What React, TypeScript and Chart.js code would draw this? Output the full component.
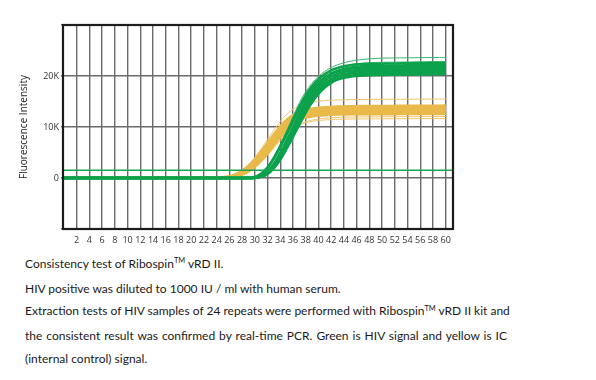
import React, { useEffect, useRef } from 'react';
import { Chart, registerables } from 'chart.js';

Chart.register(...registerables);

// PCR cycle numbers (x values)
const cycles = [
  0, 1, 2, 3, 4, 5, 6, 7, 8, 9,
  10, 11, 12, 13, 14, 15, 16, 17, 18, 19,
  20, 21, 22, 23, 24, 25, 26, 27, 28, 29,
  30, 31, 32, 33, 34, 35, 36, 37, 38, 39,
  40, 41, 42, 43, 44, 45, 46, 47, 48, 49,
  50, 51, 52, 53, 54, 55, 56, 57, 58, 59,
  60,
];

const xTickValues = [2, 4, 6, 8, 10, 12, 14, 16, 18, 20, 22, 24, 26, 28, 30, 32, 34, 36, 38, 40, 42, 44, 46, 48, 50, 52, 54, 56, 58, 60];
const yTickValues = [-10000, 0, 10000, 20000, 30000];
const yTickLabels = ['', '0', '10K', '20K', ''];
const thresholdValue = 1500;
const yAxisTitle = 'Fluorescence Intensity';

// HIV signal (green) – main band
const hiv1 = [
  0, 0, 0, 0, 0, 0, 0, 0, 0, 0,
  0, 0, 0, 0, 0, 0, 0, 0, 0, 0,
  0, 0, 0, 0, 0, 0, 0, 0, 0, 30,
  220, 850, 2080, 3940, 6270, 8780, 11420, 14000, 16240, 18030,
  19380, 20380, 21120, 21570, 21910, 22110, 22240, 22330, 22380, 22400,
  22410, 22450, 22460, 22490, 22500, 22530, 22540, 22560, 22590, 22600,
  22620,
];
const hiv2 = [
  0, 0, 0, 0, 0, 0, 0, 0, 0, 0,
  0, 0, 0, 0, 0, 0, 0, 0, 0, 0,
  0, 0, 0, 0, 0, 0, 0, 0, 0, 0,
  70, 350, 1320, 2790, 4950, 7370, 9900, 12540, 14960, 16940,
  18480, 19580, 20460, 21010, 21380, 21630, 21780, 21890, 21960, 22000,
  22010, 22040, 22060, 22070, 22100, 22110, 22140, 22150, 22170, 22190,
  22210,
];
const hiv3 = [
  0, 0, 0, 0, 0, 0, 0, 0, 0, 0,
  0, 0, 0, 0, 0, 0, 0, 0, 0, 0,
  0, 0, 0, 0, 0, 0, 0, 0, 0, 30,
  220, 830, 2020, 3820, 6080, 8510, 11070, 13560, 15730, 17470,
  18770, 19750, 20460, 20900, 21220, 21420, 21550, 21640, 21680, 21700,
  21710, 21740, 21750, 21780, 21790, 21810, 21830, 21850, 21860, 21890,
  21900,
];
const hiv4 = [
  0, 0, 0, 0, 0, 0, 0, 0, 0, 0,
  0, 0, 0, 0, 0, 0, 0, 0, 0, 0,
  0, 0, 0, 0, 0, 0, 0, 0, 0, 0,
  60, 340, 1280, 2720, 4820, 7170, 9630, 12200, 14550, 16480,
  17980, 19050, 19900, 20440, 20800, 21040, 21190, 21290, 21360, 21400,
  21420, 21430, 21460, 21470, 21490, 21510, 21520, 21550, 21560, 21580,
  21600,
];
const hiv5 = [
  0, 0, 0, 0, 0, 0, 0, 0, 0, 0,
  0, 0, 0, 0, 0, 0, 0, 0, 0, 0,
  0, 0, 0, 0, 0, 0, 0, 0, 0, 0,
  20, 210, 800, 1960, 3710, 5910, 8270, 10760, 13190, 15300,
  16990, 18250, 19200, 19900, 20320, 20640, 20830, 20950, 21040, 21080,
  21100, 21120, 21130, 21150, 21170, 21190, 21200, 21220, 21240, 21260,
  21280,
];
const hiv6 = [
  0, 0, 0, 0, 0, 0, 0, 0, 0, 0,
  0, 0, 0, 0, 0, 0, 0, 0, 0, 0,
  0, 0, 0, 0, 0, 0, 0, 0, 0, 0,
  60, 330, 1250, 2640, 4680, 6970, 9360, 11860, 14140, 16020,
  17470, 18510, 19340, 19860, 20220, 20450, 20590, 20700, 20760, 20800,
  20810, 20830, 20850, 20870, 20880, 20900, 20920, 20930, 20960, 20970,
  20990,
];
const hiv7 = [
  0, 0, 0, 0, 0, 0, 0, 0, 0, 0,
  0, 0, 0, 0, 0, 0, 0, 0, 0, 0,
  0, 0, 0, 0, 0, 0, 0, 0, 0, 0,
  20, 210, 780, 1910, 3610, 5740, 8040, 10460, 12810, 14860,
  16500, 17730, 18660, 19330, 19740, 20050, 20230, 20360, 20440, 20480,
  20500, 20510, 20530, 20550, 20560, 20580, 20600, 20610, 20640, 20650,
  20670,
];
const hiv8 = [
  0, 0, 0, 0, 0, 0, 0, 0, 0, 0,
  0, 0, 0, 0, 0, 0, 0, 0, 0, 0,
  0, 0, 0, 0, 0, 0, 0, 0, 0, 0,
  60, 320, 1210, 2570, 4550, 6770, 9090, 11510, 13740, 15550,
  16970, 17980, 18790, 19290, 19630, 19860, 20000, 20100, 20160, 20200,
  20210, 20230, 20240, 20260, 20280, 20290, 20310, 20320, 20340, 20360,
  20380,
];
// HIV signal – outlying repeats
const hivHigh1 = [
  0, 0, 0, 0, 0, 0, 0, 0, 0, 0,
  0, 0, 0, 0, 0, 0, 0, 0, 0, 0,
  0, 0, 0, 0, 0, 0, 0, 0, 0, 40,
  240, 900, 2200, 4150, 6610, 9250, 12040, 14750, 16900, 18600,
  19900, 20900, 21650, 22200, 22600, 22900, 23100, 23250, 23360, 23440,
  23500, 23520, 23540, 23550, 23570, 23580, 23600, 23610, 23620, 23640,
  23650,
];
const hivHigh2 = [
  0, 0, 0, 0, 0, 0, 0, 0, 0, 0,
  0, 0, 0, 0, 0, 0, 0, 0, 0, 0,
  0, 0, 0, 0, 0, 0, 0, 0, 0, 30,
  230, 860, 2110, 4000, 6360, 8900, 11580, 14100, 16200, 17900,
  19200, 20200, 20950, 21500, 21900, 22200, 22400, 22520, 22600, 22650,
  22680, 22700, 22710, 22730, 22740, 22760, 22770, 22790, 22800, 22820,
  22830,
];

// Internal control (yellow) – main band
const ic1 = [
  150, 150, 150, 150, 150, 150, 150, 150, 150, 150,
  150, 150, 150, 150, 150, 150, 150, 150, 150, 150,
  150, 150, 150, 150, 150, 150, 320, 730, 1410, 2400,
  3670, 5220, 6910, 8600, 10150, 11420, 12340, 12940, 13350, 13610,
  13780, 13890, 13960, 14020, 14040, 14070, 14090, 14100, 14110, 14120,
  14120, 14130, 14140, 14150, 14150, 14160, 14170, 14180, 14180, 14190,
  14200,
];
const ic2 = [
  150, 150, 150, 150, 150, 150, 150, 150, 150, 150,
  150, 150, 150, 150, 150, 150, 150, 150, 150, 150,
  150, 150, 150, 150, 150, 150, 170, 480, 970, 1790,
  2900, 4280, 5930, 7590, 9250, 10630, 11730, 12420, 12900, 13220,
  13410, 13550, 13630, 13690, 13730, 13760, 13770, 13790, 13800, 13810,
  13810, 13820, 13830, 13840, 13840, 13850, 13860, 13870, 13870, 13880,
  13890,
];
const ic3 = [
  150, 150, 150, 150, 150, 150, 150, 150, 150, 150,
  150, 150, 150, 150, 150, 150, 150, 150, 150, 150,
  150, 150, 150, 150, 150, 150, 310, 710, 1360, 2310,
  3540, 5030, 6660, 8300, 9790, 11020, 11900, 12490, 12880, 13120,
  13290, 13400, 13460, 13520, 13550, 13570, 13590, 13600, 13610, 13610,
  13620, 13630, 13630, 13640, 13650, 13650, 13660, 13670, 13670, 13680,
  13690,
];
const ic4 = [
  150, 150, 150, 150, 150, 150, 150, 150, 150, 150,
  150, 150, 150, 150, 150, 150, 150, 150, 150, 150,
  150, 150, 150, 150, 150, 150, 150, 310, 700, 1340,
  2280, 3480, 4960, 6570, 8170, 9650, 10850, 11730, 12300, 12690,
  12930, 13090, 13200, 13270, 13320, 13350, 13370, 13390, 13400, 13410,
  13410, 13420, 13430, 13430, 13440, 13450, 13460, 13460, 13470, 13480,
  13480,
];
const ic5 = [
  150, 150, 150, 150, 150, 150, 150, 150, 150, 150,
  150, 150, 150, 150, 150, 150, 150, 150, 150, 150,
  150, 150, 150, 150, 150, 150, 160, 460, 920, 1720,
  2770, 4090, 5680, 7260, 8840, 10160, 11220, 11880, 12340, 12650,
  12830, 12960, 13040, 13090, 13130, 13160, 13170, 13190, 13200, 13200,
  13210, 13220, 13220, 13230, 13240, 13240, 13250, 13260, 13260, 13270,
  13280,
];
const ic6 = [
  150, 150, 150, 150, 150, 150, 150, 150, 150, 150,
  150, 150, 150, 150, 150, 150, 150, 150, 150, 150,
  150, 150, 150, 150, 150, 150, 150, 300, 680, 1300,
  2210, 3380, 4810, 6370, 7930, 9360, 10530, 11380, 11930, 12310,
  12550, 12700, 12810, 12870, 12920, 12950, 12970, 12990, 13000, 13000,
  13010, 13020, 13020, 13030, 13030, 13040, 13050, 13050, 13060, 13070,
  13070,
];
const ic7 = [
  150, 150, 150, 150, 150, 150, 150, 150, 150, 150,
  150, 150, 150, 150, 150, 150, 150, 150, 150, 150,
  150, 150, 150, 150, 150, 150, 150, 450, 890, 1660,
  2680, 3950, 5480, 7010, 8540, 9820, 10840, 11480, 11920, 12220,
  12390, 12520, 12600, 12650, 12690, 12710, 12730, 12740, 12750, 12750,
  12760, 12760, 12770, 12780, 12780, 12790, 12790, 12800, 12810, 12810,
  12820,
];
const ic8 = [
  150, 150, 150, 150, 150, 150, 150, 150, 150, 150,
  150, 150, 150, 150, 150, 150, 150, 150, 150, 150,
  150, 150, 150, 150, 150, 150, 290, 650, 1250, 2130,
  3250, 4630, 6130, 7630, 9000, 10130, 10940, 11480, 11840, 12060,
  12210, 12310, 12380, 12430, 12450, 12480, 12490, 12500, 12500, 12510,
  12510, 12520, 12520, 12530, 12540, 12540, 12550, 12550, 12560, 12570,
  12570,
];
// Internal control – outlying repeats
const icHigh = [
  150, 150, 150, 150, 150, 150, 150, 150, 150, 150,
  150, 150, 150, 150, 150, 150, 150, 150, 150, 150,
  150, 150, 150, 150, 150, 150, 350, 800, 1540, 2620,
  4000, 5700, 7550, 9390, 11090, 12470, 13480, 14140, 14580, 14860,
  15050, 15170, 15250, 15310, 15340, 15370, 15390, 15400, 15410, 15410,
  15420, 15430, 15440, 15440, 15450, 15460, 15460, 15470, 15480, 15490,
  15490,
];
const icLow1 = [
  150, 150, 150, 150, 150, 150, 150, 150, 150, 150,
  150, 150, 150, 150, 150, 150, 150, 150, 150, 150,
  150, 150, 150, 150, 150, 150, 150, 280, 620, 1200,
  2040, 3120, 4440, 5880, 7320, 8640, 9720, 10500, 11020, 11360,
  11580, 11720, 11820, 11880, 11930, 11950, 11980, 11990, 12000, 12000,
  12010, 12010, 12020, 12020, 12030, 12030, 12040, 12040, 12050, 12050,
  12060,
];
const icLow2 = [
  150, 150, 150, 150, 150, 150, 150, 150, 150, 150,
  150, 150, 150, 150, 150, 150, 150, 150, 150, 150,
  150, 150, 150, 150, 150, 150, 150, 410, 810, 1510,
  2440, 3600, 4990, 6380, 7770, 8930, 9860, 10440, 10850, 11110,
  11280, 11390, 11460, 11510, 11540, 11570, 11580, 11590, 11600, 11600,
  11610, 11610, 11620, 11620, 11630, 11630, 11640, 11640, 11650, 11650,
  11660,
];

const hivCurves = [hiv1, hiv2, hiv3, hiv4, hiv5, hiv6, hiv7, hiv8];
const hivOutliers = [hivHigh1, hivHigh2];
const icCurves = [ic1, ic2, ic3, ic4, ic5, ic6, ic7, ic8];
const icOutliers = [icHigh, icLow1, icLow2];

const GREEN = '#0ca24c';
const GREEN_LIGHT = '#3cb873';
const YELLOW = '#e9b94a';
const YELLOW_LIGHT = '#efc66c';

const CHART_FONT = "'Open Sans', 'DejaVu Sans', sans-serif";

export default function App() {
  const canvasRef = useRef<HTMLCanvasElement>(null);

  useEffect(() => {
    const canvas = canvasRef.current;
    if (!canvas) return;

    const toPoints = (vals: number[]) => vals.map((v, i) => ({ x: cycles[i], y: v }));
    const line = (vals: number[], color: string, width: number, order: number) => ({
      data: toPoints(vals),
      borderColor: color,
      borderWidth: width,
      pointRadius: 0,
      pointHoverRadius: 0,
      cubicInterpolationMode: 'monotone' as const,
      fill: false,
      order,
    });

    const datasets = [
      ...icOutliers.map((v) => line(v, YELLOW_LIGHT, 1, 3)),
      ...icCurves.map((v) => line(v, YELLOW, 2.5, 2)),
      ...hivOutliers.map((v) => line(v, GREEN_LIGHT, 1, 1)),
      ...hivCurves.map((v) => line(v, GREEN, 2.5, 0)),
    ];

    const thresholdPlugin = {
      id: 'thresholdLine',
      afterDatasetsDraw(chart: any) {
        const { ctx, chartArea, scales } = chart;
        const py = scales.y.getPixelForValue(thresholdValue);
        ctx.save();
        ctx.strokeStyle = '#17a552';
        ctx.lineWidth = 1.5;
        ctx.beginPath();
        ctx.moveTo(chartArea.left, py);
        ctx.lineTo(chartArea.right, py);
        ctx.stroke();
        ctx.restore();
      },
    };

    const framePlugin = {
      id: 'frame',
      afterDraw(chart: any) {
        const { ctx, chartArea } = chart;
        ctx.save();
        ctx.strokeStyle = '#1b1b1b';
        ctx.lineWidth = 2.2;
        ctx.strokeRect(
          chartArea.left,
          chartArea.top,
          chartArea.right - chartArea.left,
          chartArea.bottom - chartArea.top
        );
        ctx.restore();
      },
    };

    const chart = new Chart(canvas, {
      type: 'line',
      data: { datasets },
      plugins: [thresholdPlugin, framePlugin],
      options: {
        animation: false,
        responsive: false,
        devicePixelRatio: 1,
        events: [],
        layout: { padding: { left: 0, top: 25, right: 143, bottom: 0 } },
        plugins: {
          legend: { display: false },
          tooltip: { enabled: false },
          title: { display: false },
        },
        scales: {
          x: {
            type: 'linear',
            min: -0.15,
            max: 61.15,
            afterBuildTicks: (axis: any) => {
              axis.ticks = xTickValues.map((v) => ({ value: v }));
            },
            afterFit: (axis: any) => {
              axis.height = 21;
            },
            border: { display: false },
            grid: { color: '#6a6a6a', lineWidth: 1.4, drawTicks: false },
            ticks: {
              autoSkip: false,
              maxRotation: 0,
              minRotation: 0,
              padding: 6,
              color: '#333',
              font: { family: CHART_FONT, size: 9 },
              callback: (v: any) => String(v),
            },
          },
          y: {
            type: 'linear',
            min: -10000,
            max: 30000,
            afterBuildTicks: (axis: any) => {
              axis.ticks = yTickValues.map((v) => ({ value: v }));
            },
            afterFit: (axis: any) => {
              axis.width = 63;
            },
            border: { display: false },
            grid: { color: '#6a6a6a', lineWidth: 1.4, tickLength: 2 },
            ticks: {
              padding: 2,
              color: '#333',
              font: { family: CHART_FONT, size: 9 },
              callback: (v: any) => {
                const idx = yTickValues.indexOf(Number(v));
                return idx >= 0 ? yTickLabels[idx] : '';
              },
            },
            title: {
              display: true,
              text: yAxisTitle,
              color: '#222',
              font: { family: CHART_FONT, size: 10 },
              padding: { top: 18, bottom: 0 },
            },
          },
        },
      },
    } as any);

    return () => chart.destroy();
  }, []);

  const tm: React.CSSProperties = {
    fontSize: '0.62em',
    position: 'relative',
    top: '-0.62em',
    verticalAlign: 'baseline',
  };
  const justified: React.CSSProperties = {
    textAlign: 'justify',
    textAlignLast: 'justify' as any,
    whiteSpace: 'nowrap',
  };

  return (
    <div style={{ position: 'absolute', left: 0, top: 0, width: 596, height: 380, background: '#fff' }}>
      <canvas
        ref={canvasRef}
        width={596}
        height={250}
        style={{ position: 'absolute', left: 0, top: 0, width: 596, height: 250 }}
      />
      <div
        style={{
          position: 'absolute',
          left: 25,
          top: 253,
          width: 482,
          fontFamily: "Lato, 'Open Sans', sans-serif",
          fontSize: 12,
          lineHeight: '22.7px',
          color: '#1a1a1a',
        }}
      >
        <div>
          Consistency test of Ribospin<span style={tm}>TM</span> vRD II.
        </div>
        <div>HIV positive was diluted to 1000 IU / ml with human serum.</div>
        <div style={justified}>
          Extraction tests of HIV samples of 24 repeats were performed with Ribospin<span style={tm}>TM</span> vRD II kit and
        </div>
        <div style={justified}>
          the consistent result was confirmed by real-time PCR. Green is HIV signal and yellow is IC
        </div>
        <div>(internal control) signal.</div>
      </div>
    </div>
  );
}
